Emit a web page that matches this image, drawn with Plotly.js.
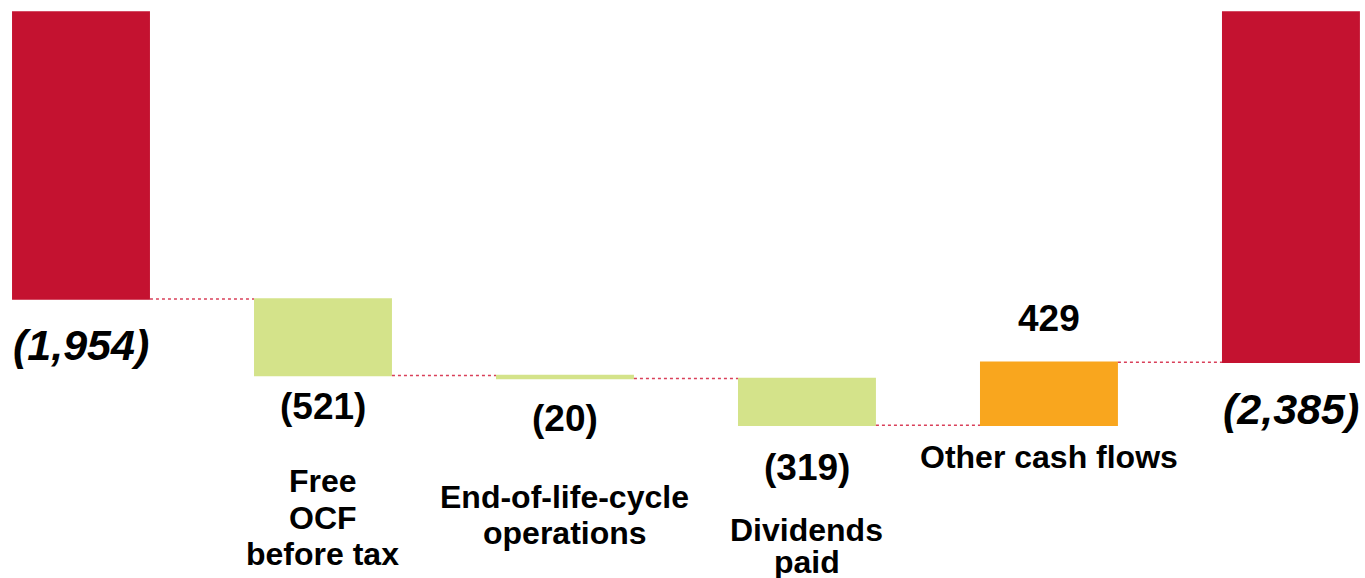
<!DOCTYPE html>
<html>
<head>
<meta charset="utf-8">
<script src="https://cdn.plot.ly/plotly-3.0.1.min.js"></script>
<style>
  html, body { margin: 0; padding: 0; background: #fff; }
  #chart { width: 1365px; height: 578px; }
</style>
</head>
<body>
<div id="chart"></div>
<script>
// cash flow bridge values
const steps = ["start", "ocf", "eol", "div", "other", "end"];
const values = [-1954, -521, -20, -319, 429, -2385];
const measures = ["absolute", "relative", "relative", "relative", "relative", "total"];
const valueLabels = ["(1,954)", "(521)", "(20)", "(319)", "429", "(2,385)"];
const categoryLines = [[], ["Free", "OCF", "before tax"], ["End-of-life-cycle", "operations"], ["Dividends", "paid"], ["Other cash flows"], []];

const H = 578;
const toPaper = (py) => 1 - py / H;

// label centres in pixels
const valueY = [345, 406, 418, 467, 318, 409];
const catY = [[], [481, 518, 554], [497, 533], [530, 562], [457], []];

const trace = {
  type: "waterfall",
  x: steps,
  y: values,
  measure: measures,
  width: 0.57,
  textinfo: "none",
  hoverinfo: "none",
  totals: { marker: { color: "#C41230" } },
  decreasing: { marker: { color: "#D4E38A" } },
  increasing: { marker: { color: "#F9A61E" } },
  connector: { mode: "between", line: { color: "#D9405A", width: 1.5, dash: "dot" } },
};

const fontFamily = "Liberation Sans, Arial, sans-serif";
const annotations = [];
steps.forEach((s, i) => {
  const isTotal = measures[i] !== "relative";
  annotations.push({
    x: s,
    xref: "x",
    y: toPaper(valueY[i]),
    yref: "paper",
    text: isTotal ? "<b><i>" + valueLabels[i] + "</i></b>" : "<b>" + valueLabels[i] + "</b>",
    showarrow: false,
    xanchor: "center",
    yanchor: "middle",
    font: { family: fontFamily, size: isTotal ? 43 : 37, color: "#000" },
  });
  categoryLines[i].forEach((line, j) => {
    annotations.push({
      x: s,
      xref: "x",
      y: toPaper(catY[i][j]),
      yref: "paper",
      text: "<b>" + line + "</b>",
      showarrow: false,
      xanchor: "center",
      yanchor: "middle",
      font: { family: fontFamily, size: 32, color: "#000" },
    });
  });
});

const layout = {
  width: 1365,
  height: 578,
  margin: { l: 0, r: 0, t: 0, b: 0 },
  paper_bgcolor: "#fff",
  plot_bgcolor: "#fff",
  showlegend: false,
  xaxis: {
    type: "category",
    range: [-0.3347, 5.306],
    visible: false,
    fixedrange: true,
  },
  yaxis: {
    range: [-3854, 82],
    visible: false,
    fixedrange: true,
  },
  annotations: annotations,
};

Plotly.newPlot("chart", [trace], layout, { displayModeBar: false, staticPlot: true });
</script>
</body>
</html>
